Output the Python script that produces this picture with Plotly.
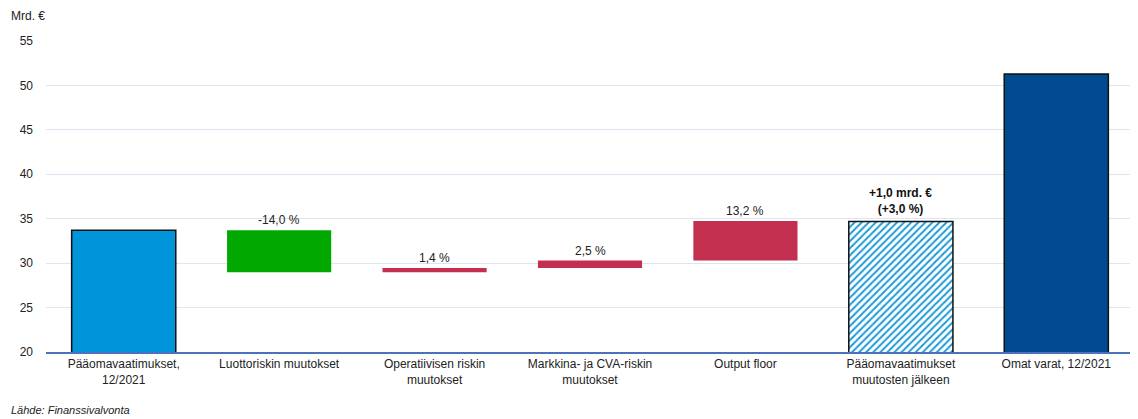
import plotly.graph_objects as go

categories = [
    "Pääomavaatimukset,<br>12/2021",
    "Luottoriskin muutokset",
    "Operatiivisen riskin<br>muutokset",
    "Markkina- ja CVA-riskin<br>muutokset",
    "Output floor",
    "Pääomavaatimukset<br>muutosten jälkeen",
    "Omat varat, 12/2021",
]
start_value = 33.7          # mrd. €
changes = [-4.72, 0.47, 0.84, 4.45]   # mrd. €
change_labels = ["-14,0 %", "1,4 %", "2,5 %", "13,2 %"]
after_value = 34.7
own_funds = 51.3
after_label = "<b>+1,0 mrd. €<br>(+3,0 %)</b>"
y_ticks = [20, 25, 30, 35, 40, 45, 50, 55]

# build floating bars
bases, heights = [0], [start_value]
level = start_value
for c in changes:
    bases.append(level)
    heights.append(c)
    level += c

solid_x = categories[:5] + [categories[6]]
solid_y = heights + [own_funds]
solid_base = bases + [0]
colors = ["#0095DA", "#00A800", "#C3304F", "#C3304F", "#C3304F", "#004B8F"]
line_w = [1.5, 0, 0, 0, 0, 1.5]

fig = go.Figure()
fig.add_trace(go.Bar(
    x=solid_x, y=solid_y, base=solid_base, width=0.67,
    marker=dict(color=colors, line=dict(color="#111111", width=line_w)),
    hoverinfo="skip",
))
fig.add_trace(go.Bar(
    x=[categories[5]], y=[after_value], base=[0], width=0.67,
    marker=dict(
        color="#1E9AD8",
        line=dict(color="#111111", width=1.5),
        pattern=dict(shape="/", fgcolor="#1E9AD8", bgcolor="white",
                     fgopacity=1, size=5, solidity=0.4, fillmode="replace"),
    ),
    hoverinfo="skip",
))

for i, (c, lab) in enumerate(zip(changes, change_labels)):
    top = max(bases[i + 1], bases[i + 1] + c)
    fig.add_annotation(x=categories[i + 1], y=top, text=lab, showarrow=False,
                       yanchor="bottom", yshift=1,
                       font=dict(size=12, color="#222222"))
fig.add_annotation(x=categories[5], y=after_value, text=after_label, showarrow=False,
                   yanchor="bottom", yshift=3,
                   font=dict(size=12, color="#111111"))
fig.add_annotation(x=-0.034, y=1.08, xref="paper", yref="paper", xanchor="left", yanchor="middle",
                   text="Mrd. €", showarrow=False, font=dict(size=12, color="#222222"))
fig.add_annotation(x=-0.034, y=-0.187, xref="paper", yref="paper", xanchor="left", yanchor="middle",
                   text="<i>Lähde: Finanssivalvonta</i>", showarrow=False,
                   font=dict(size=11, color="#222222"))

fig.update_layout(
    width=1130, height=411,
    margin=dict(l=38, r=4, t=33, b=67),
    paper_bgcolor="white", plot_bgcolor="white",
    font=dict(family="Liberation Sans, Arial, sans-serif", size=12, color="#222222"),
    showlegend=False,
    barmode="overlay",
    xaxis=dict(showgrid=False, showline=True, linecolor="#4A72B8", linewidth=1.5,
               ticks="", tickfont=dict(size=12), categoryorder="array",
               categoryarray=categories),
    yaxis=dict(range=[20, 55], tickvals=y_ticks, showgrid=True, gridcolor="#DCE6F2",
               gridwidth=1, zeroline=False, ticks="", ticklabelstandoff=12,
               tickfont=dict(size=12)),
)
fig.write_html("out.html")
